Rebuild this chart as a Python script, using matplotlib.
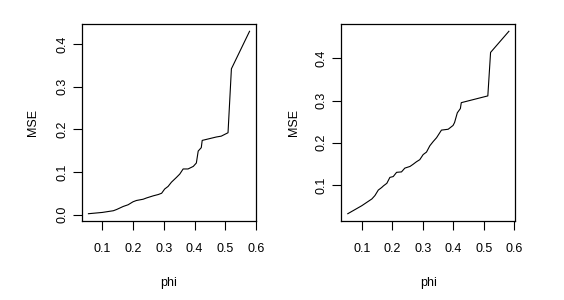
import matplotlib
matplotlib.use('Agg')
import matplotlib.pyplot as plt

# --- data ---
phi_left = [0.055, 0.100, 0.136, 0.147, 0.168, 0.184, 0.200, 0.211, 0.233, 0.244,
            0.266, 0.282, 0.293, 0.303, 0.314, 0.325, 0.341, 0.352, 0.363, 0.379,
            0.396, 0.406, 0.412, 0.422, 0.425, 0.471, 0.487, 0.509, 0.520, 0.579]
mse_left = [0.002, 0.005, 0.009, 0.012, 0.019, 0.023, 0.030, 0.033, 0.036, 0.039,
            0.044, 0.047, 0.050, 0.060, 0.066, 0.076, 0.087, 0.095, 0.107, 0.107,
            0.113, 0.121, 0.149, 0.157, 0.174, 0.182, 0.184, 0.192, 0.342, 0.430]

phi_right = [0.054, 0.100, 0.133, 0.143, 0.154, 0.165, 0.171, 0.182, 0.192, 0.203,
             0.214, 0.230, 0.241, 0.258, 0.268, 0.279, 0.290, 0.301, 0.312, 0.323,
             0.334, 0.345, 0.361, 0.383, 0.399, 0.404, 0.413, 0.423, 0.426, 0.502,
             0.513, 0.522, 0.582]
mse_right = [0.032, 0.051, 0.067, 0.075, 0.088, 0.094, 0.098, 0.104, 0.118, 0.120,
             0.130, 0.131, 0.140, 0.144, 0.149, 0.155, 0.160, 0.172, 0.178, 0.193,
             0.203, 0.212, 0.230, 0.232, 0.241, 0.248, 0.271, 0.281, 0.295, 0.309,
             0.311, 0.414, 0.464]

x_ticks = [0.1, 0.2, 0.3, 0.4, 0.5, 0.6]
y_ticks_left = [0.0, 0.1, 0.2, 0.3, 0.4]
y_ticks_right = [0.1, 0.2, 0.3, 0.4]

plt.rcParams['font.family'] = ['Liberation Sans', 'DejaVu Sans']

fig = plt.figure(figsize=(5.64, 3.0), dpi=100)
ax1 = fig.add_axes([0.1454, 0.2633, 0.3085, 0.6567])
ax2 = fig.add_axes([0.6052, 0.2633, 0.3085, 0.6567])


def r_range(vals):
    # R-style 4% padding around the data
    lo, hi = min(vals), max(vals)
    d = (hi - lo) * 0.04
    return lo - d, hi + d


for ax, xs, ys, yt, mse_x in [(ax1, phi_left, mse_left, y_ticks_left, 33 / 564),
                              (ax2, phi_right, mse_right, y_ticks_right, 294 / 564)]:
    ax.plot(xs, ys, color='black', linewidth=0.8)
    ax.set_xlim(*r_range(xs))
    ax.set_ylim(*r_range(ys))
    ax.set_xticks(x_ticks)
    ax.set_xticklabels([f"{t:.1f}" for t in x_ticks])
    ax.set_yticks(yt)
    ax.set_yticklabels([f"{t:.1f}" for t in yt], rotation=90, va='center')
    ax.tick_params(axis='x', length=6.2, width=0.8, pad=9.5, labelsize=9)
    ax.tick_params(axis='y', length=6.2, width=0.8, pad=3.5, labelsize=9)
    for s in ax.spines.values():
        s.set_linewidth(0.9)
    fig.text(mse_x, 0.59, "MSE", rotation=90, ha='center', va='center', fontsize=9)
    x_mid = (ax.get_position().x0 + ax.get_position().x1) / 2
    fig.text(x_mid, 1 - 283 / 300, "phi", ha='center', va='center', fontsize=9)

fig.savefig("out.png", dpi=100)
